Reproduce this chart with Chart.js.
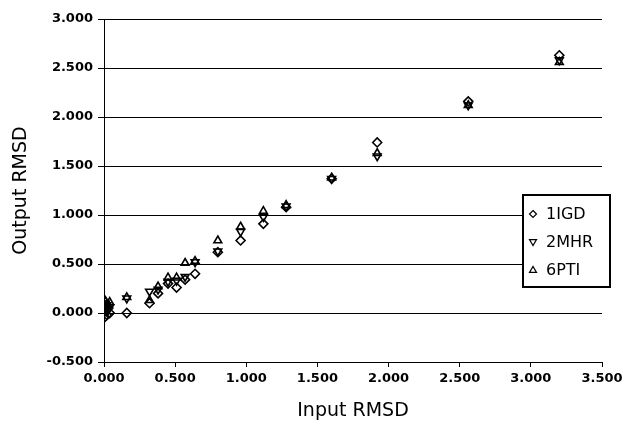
<!DOCTYPE html>
<html>
<head>
<meta charset="utf-8">
<title>Output vs Input RMSD</title>
<script src="https://cdn.jsdelivr.net/npm/chart.js@4.4.0/dist/chart.umd.min.js"></script>
<style>
    html, body { margin: 0; padding: 0; background: #fff; }
    #wrap { width: 629px; height: 424px; }
</style>
</head>
<body>
<div id="wrap"><canvas id="rmsdChart" width="629" height="424"></canvas></div>
<script>
// --- Data ---
const inputRmsd = [0.00, 0.01, 0.02, 0.03, 0.04, 0.16, 0.32, 0.38, 0.45, 0.51, 0.57, 0.64, 0.80, 0.96, 1.12, 1.28, 1.60, 1.92, 2.56, 3.20];
const out1IGD  = [-0.05, 0.02, -0.02, 0.05, 0.00, 0.00, 0.10, 0.20, 0.30, 0.26, 0.34, 0.40, 0.62, 0.74, 0.91, 1.08, 1.37, 1.74, 2.16, 2.63];
const out2MHR  = [0.05, 0.10, 0.08, 0.03, 0.06, 0.15, 0.22, 0.24, 0.32, 0.33, 0.37, 0.52, 0.63, 0.83, 0.98, 1.09, 1.37, 1.60, 2.12, 2.58];
const out6PTI  = [0.14, 0.12, 0.09, 0.07, 0.11, 0.16, 0.13, 0.27, 0.36, 0.36, 0.51, 0.53, 0.74, 0.88, 1.04, 1.10, 1.38, 1.63, 2.12, 2.56];
const seriesNames = ['1IGD', '2MHR', '6PTI'];

function toPoints(ys) {
    return inputRmsd.map((x, i) => ({ x: x, y: ys[i] }));
}

const tickFont = { family: 'DejaVu Sans', size: 13, weight: 'bold' };
const titleFont = { family: 'DejaVu Sans', size: 19 };

// --- Legend box drawn inside the plot ---
function drawMarker(ctx, kind, x, y, r) {
    ctx.beginPath();
    if (kind === 'diamond') {
        ctx.moveTo(x, y - r); ctx.lineTo(x + r, y); ctx.lineTo(x, y + r); ctx.lineTo(x - r, y);
    } else if (kind === 'down') {
        ctx.moveTo(x - r, y - r * 0.7); ctx.lineTo(x + r, y - r * 0.7); ctx.lineTo(x, y + r);
    } else {
        ctx.moveTo(x - r, y + r * 0.7); ctx.lineTo(x + r, y + r * 0.7); ctx.lineTo(x, y - r);
    }
    ctx.closePath();
    ctx.stroke();
}

const boxLegend = {
    id: 'boxLegend',
    afterDraw(chart) {
        const ctx = chart.ctx;
        const kinds = ['diamond', 'down', 'up'];
        const bx = 523, by = 195, bw = 87, bh = 92;
        ctx.save();
        ctx.fillStyle = '#fff';
        ctx.fillRect(bx, by, bw, bh);
        ctx.lineWidth = 2;
        ctx.strokeStyle = '#000';
        ctx.strokeRect(bx, by, bw, bh);
        ctx.lineWidth = 1.2;
        ctx.font = '16px "DejaVu Sans"';
        ctx.fillStyle = '#000';
        ctx.textBaseline = 'middle';
        seriesNames.forEach((name, i) => {
            const cy = by + 19 + i * 28;
            drawMarker(ctx, kinds[i], bx + 10, cy, 3.5);
            ctx.fillText(name, bx + 23, cy + 1);
        });
        ctx.restore();
    }
};

// --- Chart ---
const ctx = document.getElementById('rmsdChart').getContext('2d');
const commonPoint = {
    showLine: false,
    borderColor: '#000',
    backgroundColor: 'rgba(0,0,0,0)',
    borderWidth: 1.6,
    pointRadius: 4.5,
    pointHoverRadius: 4.5
};

new Chart(ctx, {
    type: 'scatter',
    data: {
        datasets: [
            Object.assign({ label: seriesNames[0], data: toPoints(out1IGD), pointStyle: 'rectRot' }, commonPoint),
            Object.assign({ label: seriesNames[1], data: toPoints(out2MHR), pointStyle: 'triangle', pointRotation: 180 }, commonPoint),
            Object.assign({ label: seriesNames[2], data: toPoints(out6PTI), pointStyle: 'triangle' }, commonPoint)
        ]
    },
    options: {
        responsive: false,
        animation: false,
        devicePixelRatio: 1,
        layout: { padding: { top: 19, right: 27, left: 0, bottom: 0 } },
        plugins: {
            legend: { display: false },
            tooltip: { enabled: false }
        },
        scales: {
            x: {
                type: 'linear',
                min: 0,
                max: 3.5,
                ticks: {
                    stepSize: 0.5,
                    color: '#000',
                    font: tickFont,
                    padding: 4,
                    maxRotation: 0,
                    callback: v => v.toFixed(3)
                },
                grid: { drawOnChartArea: false, color: '#000', tickLength: 5 },
                border: { color: '#000', width: 1 },
                title: { display: true, text: 'Input RMSD', color: '#000', font: titleFont, padding: { top: 0, bottom: 2 } },
                afterFit(scale) { scale.height = 62; }
            },
            y: {
                min: -0.5,
                max: 3,
                ticks: {
                    stepSize: 0.5,
                    color: '#000',
                    font: tickFont,
                    padding: 5,
                    callback: v => v.toFixed(3)
                },
                grid: { color: '#000', tickLength: 6 },
                border: { color: '#000', width: 1 },
                title: { display: true, text: 'Output RMSD', color: '#000', font: titleFont, padding: { top: 10, bottom: 0 } },
                afterFit(scale) { scale.width = 104; }
            }
        }
    },
    plugins: [boxLegend]
});
</script>
</body>
</html>
